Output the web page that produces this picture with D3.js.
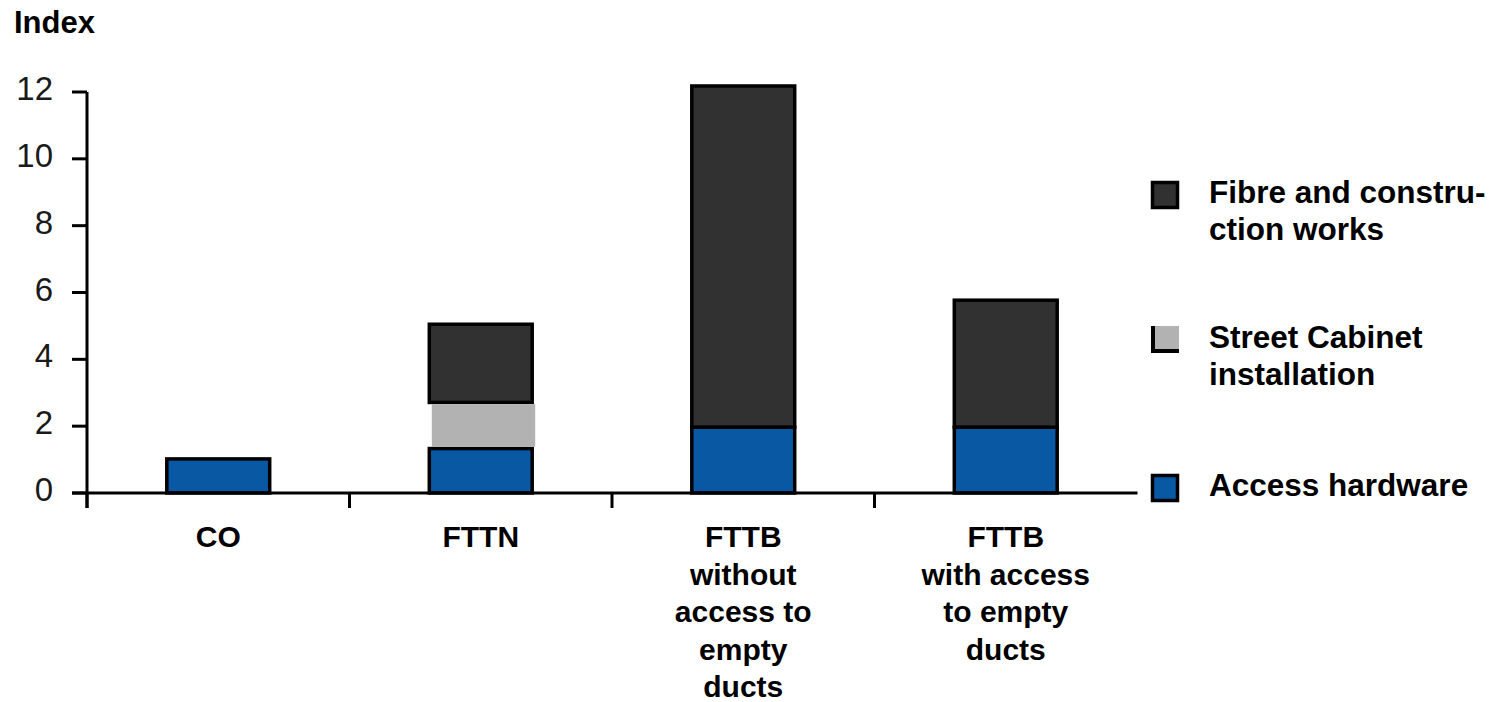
<!DOCTYPE html>
<html>
<head>
<meta charset="utf-8">
<script src="https://cdn.jsdelivr.net/npm/d3@7"></script>
<style>
  html, body { margin: 0; padding: 0; background: #ffffff; }
  svg { display: block; }
  text { font-family: "Liberation Sans", Arial, Helvetica, sans-serif; fill: #000; }
</style>
</head>
<body>
<svg id="chart" width="1497" height="702"></svg>
<script>
// Cost index of access network variants, stacked by cost component
const categories = ["CO", "FTTN", "FTTB without access to empty ducts", "FTTB with access to empty ducts"];
const categoryLines = [
  ["CO"],
  ["FTTN"],
  ["FTTB", "without", "access to", "empty", "ducts"],
  ["FTTB", "with access", "to empty", "ducts"]
];
const seriesKeys = ["access", "cabinet", "fibre"];
const seriesNames = ["Access hardware", "Street Cabinet installation", "Fibre and construction works"];
const accessHardware = [1.02, 1.33, 1.97, 1.97];
const streetCabinet = [0, 1.38, 0, 0];
const fibreConstruction = [0, 2.34, 10.21, 3.80];
const yTicks = [0, 2, 4, 6, 8, 10, 12];
const yLabel = "Index";
const legendOrder = ["fibre", "cabinet", "access"];
const legendLines = {
  fibre: ["Fibre and constru-", "ction works"],
  cabinet: ["Street Cabinet", "installation"],
  access: ["Access hardware"]
};
const colors = { access: "#0858a4", cabinet: "#b2b2b2", fibre: "#313131" };

const rows = categories.map((c, i) => ({
  category: c,
  access: accessHardware[i],
  cabinet: streetCabinet[i],
  fibre: fibreConstruction[i]
}));

const svg = d3.select("#chart");

const x = d3.scaleBand().domain(categories).range([87, 1137]).paddingInner(0).paddingOuter(0);
const y = d3.scaleLinear().domain([0, 12]).range([493, 92]);

const barFrac = 0.392;
const barW = x.bandwidth() * barFrac;
const barX = c => x(c) + (x.bandwidth() - barW) / 2;
const stroke = 3.5;

const stacked = d3.stack().keys(seriesKeys)(rows);

// stacked segments with black outlines
const outlined = stacked.filter(s => s.key !== "cabinet");
const segG = svg.append("g");
outlined.forEach(s => {
  segG.selectAll(null)
    .data(s.filter(d => d[1] - d[0] > 0))
    .join("rect")
    .attr("x", d => barX(d.data.category))
    .attr("y", d => y(d[1]))
    .attr("width", barW)
    .attr("height", d => y(d[0]) - y(d[1]))
    .attr("fill", colors[s.key])
    .attr("stroke", "#000")
    .attr("stroke-width", stroke);
});

// cabinet segment is filled without an outline
const cab = stacked.find(s => s.key === "cabinet");
segG.selectAll(null)
  .data(cab.filter(d => d[1] - d[0] > 0))
  .join("rect")
  .attr("x", d => barX(d.data.category) + 2.5)
  .attr("y", d => y(d[1]) + stroke / 2)
  .attr("width", barW + 0.5)
  .attr("height", d => y(d[0]) - y(d[1]) - stroke)
  .attr("fill", colors.cabinet);

// y axis
const yAxis = svg.append("g");
yAxis.append("line")
  .attr("x1", 87).attr("x2", 87)
  .attr("y1", y(12)).attr("y2", y(0) + 15)
  .attr("stroke", "#000").attr("stroke-width", 3);
yAxis.selectAll("line.tick")
  .data(yTicks)
  .join("line")
  .attr("class", "tick")
  .attr("x1", 72).attr("x2", 87)
  .attr("y1", d => y(d)).attr("y2", d => y(d))
  .attr("stroke", "#000").attr("stroke-width", 3);
yAxis.selectAll("text")
  .data(yTicks)
  .join("text")
  .attr("x", 53)
  .attr("y", d => y(d) + 8)
  .attr("text-anchor", "end")
  .style("font-size", "33px")
  .style("fill", "#1a1a1a")
  .text(d => d);

// x axis
const xAxis = svg.append("g");
xAxis.append("line")
  .attr("x1", 72).attr("x2", 1137.5)
  .attr("y1", y(0)).attr("y2", y(0))
  .attr("stroke", "#000").attr("stroke-width", 3);
xAxis.selectAll("line.tick")
  .data(categories)
  .join("line")
  .attr("class", "tick")
  .attr("x1", d => x(d)).attr("x2", d => x(d))
  .attr("y1", y(0)).attr("y2", y(0) + 15)
  .attr("stroke", "#000").attr("stroke-width", 3);

const catG = xAxis.selectAll("text")
  .data(categories)
  .join("text")
  .attr("text-anchor", "middle")
  .style("font-size", "30px")
  .style("font-weight", "bold");
catG.each(function(d, i) {
  const t = d3.select(this);
  categoryLines[i].forEach((line, j) => {
    t.append("tspan")
      .attr("x", x(d) + x.bandwidth() / 2)
      .attr("y", 547 + j * 37.5)
      .text(line);
  });
});

// axis title
svg.append("text")
  .attr("x", 14).attr("y", 33)
  .style("font-size", "31px")
  .style("font-weight", "bold")
  .text(yLabel);

// legend
const legendY = { fibre: 181, cabinet: 326, access: 474 };
const leg = svg.append("g");
legendOrder.forEach(k => {
  const top = legendY[k];
  if (k === "cabinet") {
    leg.append("rect")
      .attr("x", 1151).attr("y", top).attr("width", 28).attr("height", 27)
      .attr("fill", "#000");
    leg.append("rect")
      .attr("x", 1155).attr("y", top).attr("width", 24).attr("height", 23)
      .attr("fill", colors[k]);
  } else {
    leg.append("rect")
      .attr("x", 1152.5).attr("y", top + 1.5).attr("width", 25).attr("height", 25)
      .attr("fill", colors[k])
      .attr("stroke", "#000").attr("stroke-width", 3.5);
  }
  const t = leg.append("text")
    .style("font-size", "31.5px")
    .style("font-weight", "bold");
  legendLines[k].forEach((line, j) => {
    t.append("tspan")
      .attr("x", 1209)
      .attr("y", top + 22 + j * 37)
      .text(line);
  });
});
</script>
</body>
</html>
